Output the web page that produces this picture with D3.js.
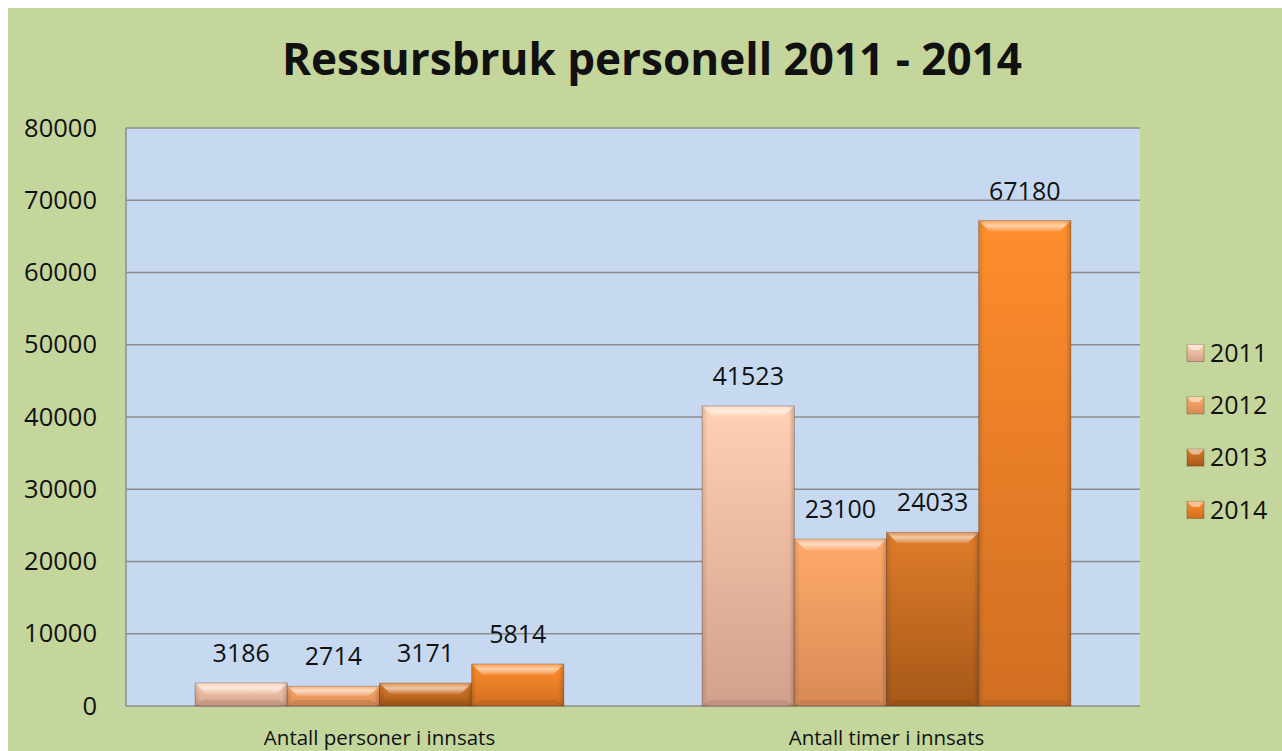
<!DOCTYPE html>
<html>
<head>
<meta charset="utf-8">
<script src="https://cdn.jsdelivr.net/npm/d3@7"></script>
<style>
  body { margin: 0; background: #fff; }
  text { font-family: "Open Sans", "DejaVu Sans", sans-serif; fill: #111; }
</style>
</head>
<body>
<svg id="chart"></svg>
<script>
// chart values
var categories = ["Antall personer i innsats", "Antall timer i innsats"];
var years = ["2011", "2012", "2013", "2014"];
var values2011 = [3186, 41523];
var values2012 = [2714, 23100];
var values2013 = [3171, 24033];
var values2014 = [5814, 67180];
var yTicks = [0, 10000, 20000, 30000, 40000, 50000, 60000, 70000, 80000];

var seriesValues = [values2011, values2012, values2013, values2014];

// bar shading per year: top colour, bottom colour
var shades = {
  "2011": ["#ffd0b2", "#d2a08c"],
  "2012": ["#ffaa6a", "#d88a56"],
  "2013": ["#de7c2a", "#a65818"],
  "2014": ["#ff8d2c", "#d06e22"]
};

var width = 1282, height = 751;
var plot = { left: 126, right: 1140, top: 128, bottom: 706 };

var svg = d3.select("#chart")
            .attr("width", width)
            .attr("height", height);

var defs = svg.append("defs");
years.forEach(function(y) {
  var g = defs.append("linearGradient")
              .attr("id", "grad" + y)
              .attr("x1", 0).attr("y1", 0)
              .attr("x2", 0).attr("y2", 1);
  g.append("stop").attr("offset", "0%").attr("stop-color", shades[y][0]);
  g.append("stop").attr("offset", "100%").attr("stop-color", shades[y][1]);
  var s = defs.append("linearGradient")
              .attr("id", "side" + y)
              .attr("x1", 0).attr("y1", 0)
              .attr("x2", 1).attr("y2", 0);
  s.append("stop").attr("offset", "0%").attr("stop-color", "#000").attr("stop-opacity", 0.12);
  s.append("stop").attr("offset", "6%").attr("stop-color", "#000").attr("stop-opacity", 0);
  s.append("stop").attr("offset", "94%").attr("stop-color", "#000").attr("stop-opacity", 0);
  s.append("stop").attr("offset", "100%").attr("stop-color", "#000").attr("stop-opacity", 0.18);
  var t = defs.append("linearGradient")
              .attr("id", "top" + y)
              .attr("x1", 0).attr("y1", 0)
              .attr("x2", 0).attr("y2", 1);
  t.append("stop").attr("offset", "0%").attr("stop-color", "#fff").attr("stop-opacity", 0.15);
  t.append("stop").attr("offset", "45%").attr("stop-color", "#fff").attr("stop-opacity", 0.6);
  t.append("stop").attr("offset", "100%").attr("stop-color", "#fff").attr("stop-opacity", 0.1);
});

// outer background
svg.append("rect")
    .attr("x", 8).attr("y", 8)
    .attr("width", width - 8).attr("height", height - 8)
    .attr("fill", "#c4d69c");

// plot background
svg.append("rect")
    .attr("x", plot.left).attr("y", plot.top)
    .attr("width", plot.right - plot.left)
    .attr("height", plot.bottom - plot.top)
    .attr("fill", "#c6d9f0");

var x0 = d3.scaleBand()
           .domain(categories)
           .range([plot.left, plot.right])
           .padding(0);

var x1 = d3.scaleBand()
           .domain(years)
           .range([0, x0.bandwidth()])
           .paddingInner(0)
           .paddingOuter(0.75);

var yScale = d3.scaleLinear()
               .domain([0, 80000])
               .range([plot.bottom, plot.top]);

// gridlines
svg.append("g")
    .selectAll("line")
    .data(yTicks)
    .enter()
    .append("line")
      .attr("x1", plot.left)
      .attr("x2", plot.right)
      .attr("y1", d => yScale(d))
      .attr("y2", d => yScale(d))
      .attr("stroke", "#8c8c8c")
      .attr("stroke-width", 1.5);

svg.append("line")
    .attr("x1", plot.left).attr("x2", plot.left)
    .attr("y1", plot.top).attr("y2", plot.bottom)
    .attr("stroke", "#8c8c8c")
    .attr("stroke-width", 1.5);

// y axis labels
var yAxis = d3.axisLeft(yScale)
              .tickValues(yTicks)
              .tickSize(0)
              .tickPadding(29)
              .tickFormat(d3.format("d"));

svg.append("g")
    .attr("transform", "translate(" + plot.left + ",0)")
    .call(yAxis)
    .call(g => g.select(".domain").remove())
    .selectAll("text")
      .attr("font-size", "25.5px")
      .attr("font-family", "Open Sans, sans-serif")
      .attr("fill", "#111");

// x axis labels
var xAxis = d3.axisBottom(x0).tickSize(0).tickPadding(24);
svg.append("g")
    .attr("transform", "translate(0," + plot.bottom + ")")
    .call(xAxis)
    .call(g => g.select(".domain").remove())
    .selectAll("text")
      .attr("font-size", "20.5px")
      .attr("font-family", "Open Sans, sans-serif")
      .attr("fill", "#111");

// bars
var barData = [];
categories.forEach(function(c, ci) {
  years.forEach(function(y, yi) {
    barData.push({ category: c, year: y, value: seriesValues[yi][ci] });
  });
});

var bars = svg.append("g")
              .selectAll(".bar")
              .data(barData)
              .enter()
              .append("g")
                .classed("bar", true)
                .attr("transform", d => "translate(" + (x0(d.category) + x1(d.year)) + ",0)");

var bw = x1.bandwidth();

bars.append("rect")
    .attr("x", 0)
    .attr("y", d => yScale(d.value))
    .attr("width", bw)
    .attr("height", d => yScale(0) - yScale(d.value))
    .attr("fill", d => "url(#grad" + d.year + ")")
    .attr("stroke", "rgba(90,50,20,0.35)")
    .attr("stroke-width", 1);

bars.append("rect")
    .attr("x", 0)
    .attr("y", d => yScale(d.value))
    .attr("width", bw)
    .attr("height", d => yScale(0) - yScale(d.value))
    .attr("fill", d => "url(#side" + d.year + ")");

// top bevel highlight
bars.append("path")
    .attr("d", function(d) {
      var top = yScale(d.value);
      var h = Math.min(11, (yScale(0) - top) / 2);
      return "M0," + top + "L" + bw + "," + top + "L" + (bw - 11) + "," + (top + h) +
             "L11," + (top + h) + "Z";
    })
    .attr("fill", d => "url(#top" + d.year + ")");

// bottom bevel shade
bars.append("path")
    .attr("d", function(d) {
      var top = yScale(d.value);
      var bot = yScale(0);
      var h = Math.min(6, (bot - top) / 3);
      return "M0," + bot + "L" + bw + "," + bot + "L" + (bw - 8) + "," + (bot - h) +
             "L8," + (bot - h) + "Z";
    })
    .attr("fill", "#000")
    .attr("fill-opacity", 0.08);

// data labels
bars.append("text")
    .attr("x", bw / 2)
    .attr("y", d => yScale(d.value) - 21)
    .attr("text-anchor", "middle")
    .attr("font-size", "25px")
    .text(d => d.value);

// title
svg.append("text")
    .attr("x", 652)
    .attr("y", 75)
    .attr("text-anchor", "middle")
    .attr("font-size", "44px")
    .attr("font-weight", "bold")
    .attr("textLength", 740)
    .attr("lengthAdjust", "spacingAndGlyphs")
    .text("Ressursbruk personell 2011 - 2014");

// legend
var legend = svg.append("g")
                .selectAll(".legend-item")
                .data(years)
                .enter()
                .append("g")
                  .classed("legend-item", true)
                  .attr("transform", (d, i) => "translate(1187," + (353 + i * 52.3) + ")");

legend.append("rect")
    .attr("x", 0).attr("y", -8.5)
    .attr("width", 17).attr("height", 17)
    .attr("fill", d => "url(#grad" + d + ")")
    .attr("stroke", "rgba(90,50,20,0.35)");

legend.append("path")
    .attr("d", "M0,-8.5L17,-8.5L12,-3L5,-3Z")
    .attr("fill", "#fff")
    .attr("fill-opacity", 0.5);

legend.append("text")
    .attr("x", 23)
    .attr("y", 0)
    .attr("dy", "0.35em")
    .attr("font-size", "25px")
    .text(d => d);
</script>
</body>
</html>
